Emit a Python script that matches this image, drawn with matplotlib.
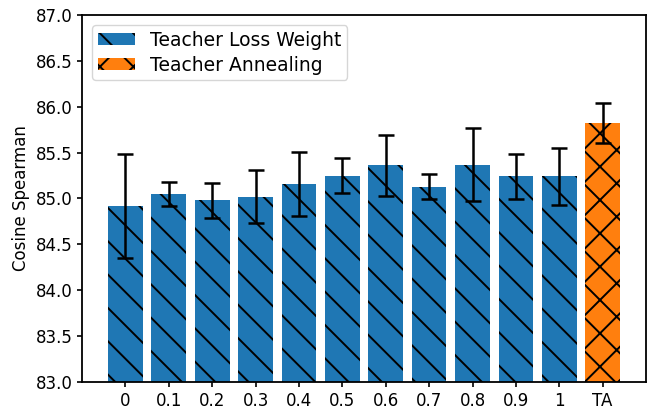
import numpy as np
import matplotlib
matplotlib.use("Agg")
import matplotlib.pyplot as plt

# values
labels = ["0", "0.1", "0.2", "0.3", "0.4", "0.5", "0.6", "0.7", "0.8", "0.9", "1", "TA"]
weight_means = [84.92, 85.05, 84.98, 85.02, 85.16, 85.25, 85.36, 85.13, 85.37, 85.24, 85.24]
weight_errs = [0.57, 0.13, 0.19, 0.29, 0.35, 0.19, 0.33, 0.14, 0.40, 0.25, 0.31]
ta_mean = [85.82]
ta_err = [0.22]

plt.rcParams["hatch.linewidth"] = 1.4

DPI = 100
fig = plt.figure(figsize=(6.64, 4.15), dpi=DPI)
ax = fig.add_axes([0.1235, 0.0795, 0.973 - 0.1235, 0.964 - 0.0795])

x_w = np.arange(len(weight_means))
x_ta = np.arange(len(weight_means), len(labels))

err_kw = dict(elinewidth=1.8, capthick=1.8)
ax.bar(x_w, weight_means, width=0.8, color="#1f77b4", hatch="\\",
       yerr=weight_errs, capsize=6, ecolor="black", error_kw=err_kw,
       label="Teacher Loss Weight")
ax.bar(x_ta, ta_mean, width=0.8, color="#ff7f0e", hatch="x",
       yerr=ta_err, capsize=6, ecolor="black", error_kw=err_kw,
       label="Teacher Annealing")

ax.set_ylim(83.0, 87.0)
ax.set_xlim(-1, len(labels))
yt = np.arange(83.0, 87.01, 0.5)
ax.set_yticks(yt)
ax.set_yticklabels([f"{v:.1f}" for v in yt])
ax.set_xticks(np.arange(len(labels)))
ax.set_xticklabels(labels)
ax.tick_params(labelsize=12, width=1.2)
for s in ax.spines.values():
    s.set_linewidth(1.3)
ax.set_ylabel("Cosine Spearman", fontsize=12)

ax.legend(loc="upper left", fontsize=13.5, labelspacing=0.3, borderpad=0.3,
          handleheight=0.6, borderaxespad=0.55)

fig.savefig("out.png", dpi=DPI)
